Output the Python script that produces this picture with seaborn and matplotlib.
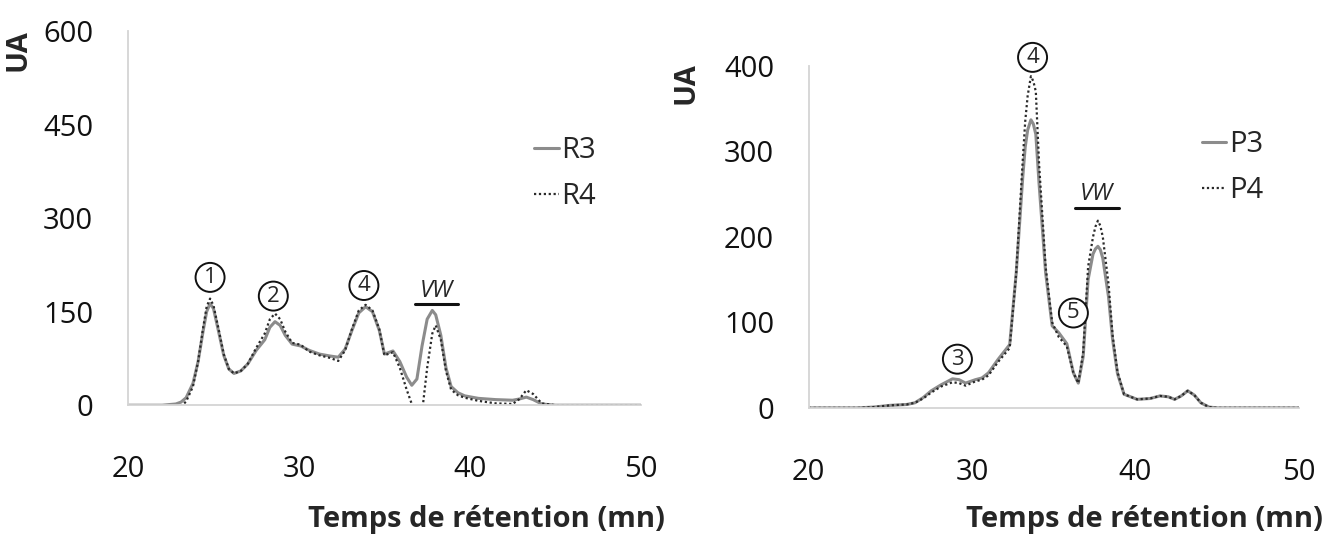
import numpy as np
import pandas as pd
import matplotlib
matplotlib.use("Agg")
import matplotlib.pyplot as plt
import seaborn as sns

temps_r = [20, 22, 22.8, 23.1, 23.4, 23.8, 24.1, 24.4, 24.6, 24.8, 25.0, 25.3, 25.6, 25.9, 26.2,
           26.6, 27.0, 27.5, 28.0, 28.3, 28.6, 28.9, 29.2, 29.6, 30.1, 30.6, 31.2, 31.8, 32.3,
           32.7, 33.1, 33.5, 33.9, 34.3, 34.7, 35.0, 35.5, 35.9, 36.3, 36.6, 36.9, 37.2, 37.5,
           37.8, 38.0, 38.3, 38.6, 38.9, 39.3, 39.7, 40.5, 41.5, 42.5, 42.9, 43.3, 43.7, 44.2,
           45, 50]
r3 = [0, 0, 2, 5, 12, 35, 70, 120, 150, 163, 155, 118, 80, 58, 51,
      55, 66, 88, 105, 125, 134, 128, 112, 98, 95, 88, 82, 79, 77,
      90, 120, 148, 158, 150, 120, 82, 87, 70, 45, 32, 42, 95, 138,
      152, 145, 112, 60, 30, 20, 15, 11, 9, 8, 10, 13, 9, 2,
      0, 0]
r4 = [-8, -8, -8, -2, 6, 30, 70, 125, 158, 171, 160, 122, 82, 58, 51,
      55, 66, 92, 115, 138, 147, 138, 118, 100, 97, 86, 80, 76, 71,
      88, 122, 152, 161, 152, 122, 80, 85, 60, 25, 2, -12, -12, 60,
      115, 128, 105, 55, 25, 16, 12, 7, 3, 2, 10, 24, 18, 3,
      0, 0]

# --- données du chromatogramme de droite (P3 / P4) ---
temps_p = [20, 23, 24, 25, 26, 26.5, 27, 27.5, 28.1, 28.8, 29.2, 29.6, 30.2, 30.6, 31.0,
           31.6, 32.3, 32.7, 33.1, 33.25, 33.4, 33.6, 33.75, 33.9, 34.1, 34.5, 34.9, 35.3,
           35.8, 36.2, 36.5, 36.8, 37.1, 37.4, 37.55, 37.7, 37.85, 38.0, 38.35, 38.6, 38.9,
           39.3, 40.1, 40.9, 41.5, 42.0, 42.4, 42.8, 43.2, 43.6, 44.0, 44.5, 45, 50]
p3 = [0, 0, 1, 3, 4, 6, 12, 20, 27, 34, 33, 29, 33, 35, 41,
      57, 74, 158, 270, 305, 325, 337, 332, 320, 262, 158, 96, 88,
      75, 41, 29, 60, 150, 180, 186, 189, 185, 175, 130, 80, 40,
      16, 10, 11, 14, 13, 10, 14, 20, 15, 6, 1, 0, 0]
p4 = [0, 0, 1, 3, 4, 6, 11, 18, 25, 30, 29, 26, 31, 33, 38,
      54, 70, 158, 290, 335, 365, 388, 382, 370, 285, 165, 100, 83,
      72, 41, 29, 65, 165, 200, 212, 219, 213, 200, 145, 85, 42,
      16, 10, 11, 14, 13, 10, 14, 20, 15, 6, 1, 0, 0]

# annotations (pics numérotés)
pics_gauche = [("1", 24.8, 205), ("2", 28.5, 175), ("4", 33.8, 192)]
pics_droite = [("3", 29.1, 57), ("4", 33.7, 410), ("5", 36.2, 111)]

sns.set_style("white")
plt.rcParams['font.family'] = ['Open Sans', 'DejaVu Sans']

fig = plt.figure(figsize=(13.39, 5.36), dpi=100)
ax1 = fig.add_axes([0.0956, 0.244, 0.383, 0.698])
ax2 = fig.add_axes([0.604, 0.239, 0.366, 0.638])

gris = "#8c8c8c"
noir = "#2a2a2a"
axe = "#d4d4d4"


def tracer(ax, x, y1, y2, n1, n2):
    df = pd.DataFrame({"t": x, "a": y1, "b": y2})
    sns.lineplot(data=df, x="t", y="a", ax=ax, color=gris, lw=2.2, label=n1)
    sns.lineplot(data=df, x="t", y="b", ax=ax, color=noir, lw=1.6, ls=(0, (1, 1.2)), label=n2)


def habiller(ax, ymax, pas, lab_x, lab_y):
    ax.set_xlim(20, 50)
    ax.set_ylim(0, ymax)
    ax.set_xticks([20, 30, 40, 50])
    ax.set_yticks(np.arange(0, ymax + 1, pas))
    for s in ["top", "right"]:
        ax.spines[s].set_visible(False)
    for s in ["left", "bottom"]:
        ax.spines[s].set_color(axe)
        ax.spines[s].set_linewidth(1.3)
    ax.tick_params(axis="both", colors=axe, labelcolor="#111111", labelsize=21,
                   length=9, width=1.3, direction="out")
    ax.tick_params(axis="x", pad=27)
    ax.tick_params(axis="y", pad=16)
    ax.set_ylabel("")
    ax.set_xlabel("Temps de rétention (mn)", fontsize=21, fontweight="bold", loc="right")
    ax.xaxis.set_label_coords(lab_x, lab_y)
    ax.xaxis.label.set_va("top")


def cercles(ax, pics):
    for t, x, y in pics:
        ax.text(x, y, t, fontsize=16, ha="center", va="center",
                bbox=dict(boxstyle="circle,pad=0.18", fc="white", ec="#111111", lw=1.4))


def vw(ax, x, y, x0, x1, yl):
    ax.text(x, y, "VW", fontsize=17, style="italic", ha="center", va="center")
    ax.plot([x0, x1], [yl, yl], color="#111111", lw=2.2)


tracer(ax1, temps_r, r3, r4, "R3", "R4")
habiller(ax1, 600, 150, 1.047, -0.268)
cercles(ax1, pics_gauche)
vw(ax1, 38.05, 183, 36.8, 39.3, 163)
ax1.legend(loc="upper left", bbox_to_anchor=(0.74, 0.79), frameon=False, fontsize=21,
           handlelength=0.85, handletextpad=0.1, labelspacing=0.6)
ax1.text(-0.215, 0.95, "UA", transform=ax1.transAxes, rotation=90, fontsize=21,
         fontweight="bold", ha="center", va="center")

tracer(ax2, temps_p, p3, p4, "P3", "P4")
habiller(ax2, 400, 100, 1.049, -0.283)
cercles(ax2, pics_droite)
vw(ax2, 37.6, 250, 36.3, 39.0, 234)
ax2.legend(loc="upper left", bbox_to_anchor=(0.748, 0.89), frameon=False, fontsize=21,
           handlelength=0.85, handletextpad=0.1, labelspacing=0.6)
ax2.text(-0.25, 0.95, "UA", transform=ax2.transAxes, rotation=90, fontsize=21,
         fontweight="bold", ha="center", va="center")

fig.savefig("out.png", dpi=100)
